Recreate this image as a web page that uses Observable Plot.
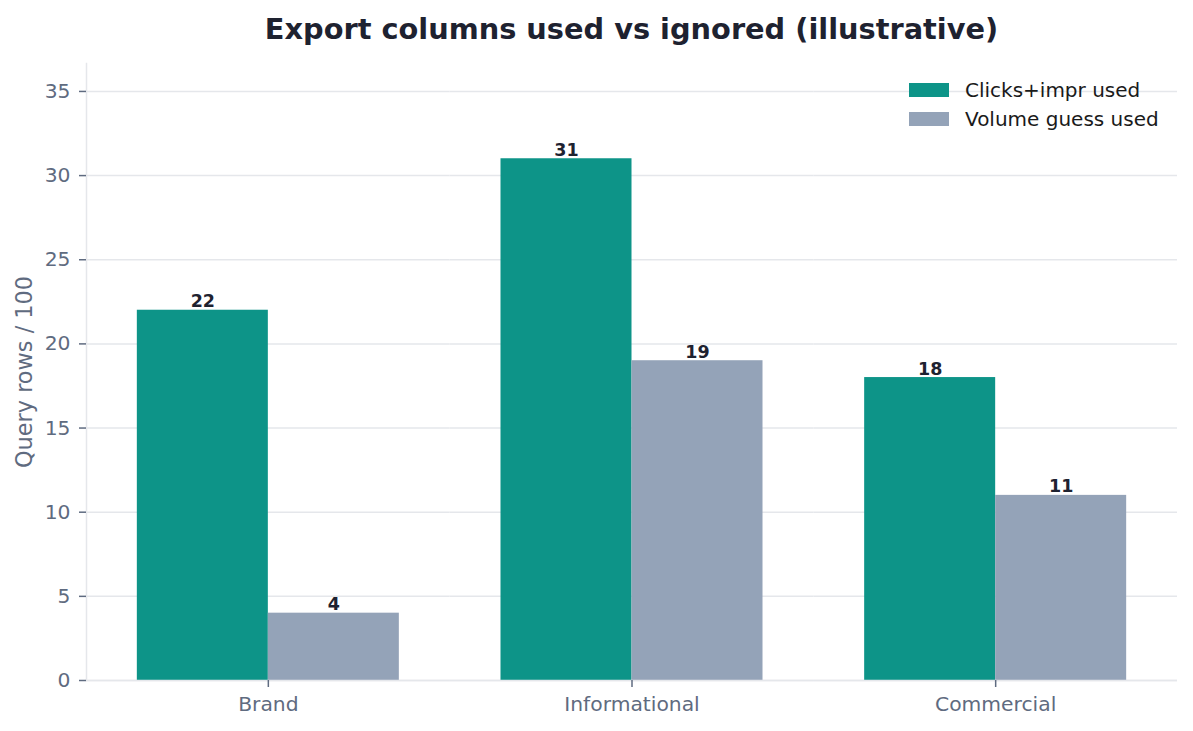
<!DOCTYPE html>
<html>
<head>
<meta charset="utf-8">
<script src="https://cdn.jsdelivr.net/npm/d3@7"></script>
<script src="https://cdn.jsdelivr.net/npm/@observablehq/plot@0.6"></script>
<style>
  html, body { margin: 0; padding: 0; background: #fff; }
  body { width: 1193px; height: 731px; position: relative; overflow: hidden; font-family: "DejaVu Sans", sans-serif; }
  #title { position: absolute; left: 86px; width: 1091px; top: 0; height: 50px; line-height: 58px; text-align: center;
           font-size: 28.8px; font-weight: bold; color: #1e2230; }
  #chart { position: absolute; left: 0; top: 50px; }
  #legend { position: absolute; left: 909px; top: 75px; font-size: 20px; color: #1a1a1a; }
  .item { display: flex; align-items: center; height: 29px; }
  .sw { width: 40px; height: 14px; margin-right: 16px; }
  #chart svg text { font-family: "DejaVu Sans", sans-serif; }
</style>
</head>
<body>
<div id="title">Export columns used vs ignored (illustrative)</div>
<div id="chart"></div>
<div id="legend"></div>
<script>
const categories = ["Brand", "Informational", "Commercial"];
const seriesNames = ["Clicks+impr used", "Volume guess used"];
const clicksImpr = [22, 31, 18];
const volumeGuess = [4, 19, 11];
const seriesColors = ["#0d9488", "#94a3b8"];
const yTicks = [0, 5, 10, 15, 20, 25, 30, 35];
const yMax = 36.66;
const yLabel = "Query rows / 100";

const table = [];
categories.forEach((c, i) => {
  table.push({category: c, series: seriesNames[0], value: clicksImpr[i]});
  table.push({category: c, series: seriesNames[1], value: volumeGuess[i]});
});

const chart = Plot.plot({
  width: 1193,
  height: 681,
  marginLeft: 86,
  marginRight: 16,
  marginTop: 13,
  marginBottom: 51,
  style: {fontFamily: "DejaVu Sans, sans-serif", fontSize: "18px", color: "#5f6b80", background: "white", overflow: "visible"},
  fx: {domain: categories, padding: 0, label: null, round: false},
  x: {domain: seriesNames, paddingInner: 0, paddingOuter: 0.388, axis: null, round: false},
  y: {domain: [0, yMax]},
  color: {domain: seriesNames, range: seriesColors},
  marks: [
    Plot.gridY(yTicks, {stroke: "#e5e7eb", strokeOpacity: 1, strokeWidth: 1.5}),
    Plot.frame({anchor: "left", facetAnchor: "left", stroke: "#e5e7eb", strokeWidth: 1.5}),
    Plot.barY(table, {fx: "category", x: "series", y: "value", fill: "series"}),
    Plot.ruleY([0], {stroke: "#e5e7eb", strokeWidth: 1.5}),
    Plot.text(table, {fx: "category", x: "series", y: "value", text: d => String(d.value),
      lineAnchor: "bottom", dy: -3, fontWeight: "bold", fontSize: 17.5, fill: "#1e2230"}),
    Plot.axisY(yTicks, {tickSize: 7, tickPadding: 9, stroke: "#5f6b80", strokeWidth: 1.5, fontSize: 20.3, label: null}),
    Plot.axisY({ticks: [], label: yLabel, labelAnchor: "center", labelArrow: "none", labelOffset: 70, fontSize: 22.4}),
    Plot.axisFx({anchor: "bottom", tickSize: 7, tickPadding: 9, stroke: "#5f6b80", strokeWidth: 1.5, fontSize: 20.3, label: null})
  ]
});
document.getElementById("chart").appendChild(chart);

const legend = document.getElementById("legend");
seriesNames.forEach((s, i) => {
  const it = document.createElement("div");
  it.className = "item";
  it.innerHTML = `<div class="sw" style="background:${seriesColors[i]}"></div><span>${s}</span>`;
  legend.appendChild(it);
});
</script>
</body>
</html>
